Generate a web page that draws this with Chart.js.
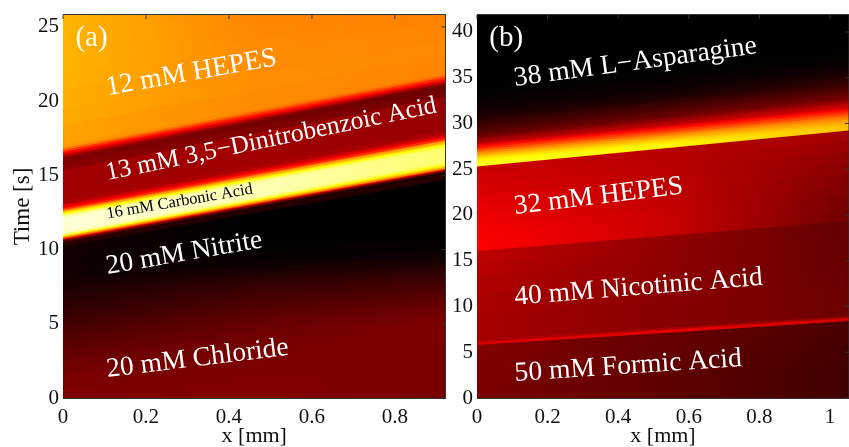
<!DOCTYPE html>
<html>
<head>
<meta charset="utf-8">
<title>Isotachophoresis zones</title>
<script src="https://cdn.jsdelivr.net/npm/chart.js@4/dist/chart.umd.min.js"></script>
<style>
  body { margin: 0; background: #fff; }
  canvas { position: absolute; top: 0; filter: blur(0.5px); }
  #panelA { left: 0; }
  #panelB { left: 425px; }
</style>
</head>
<body>
<canvas id="panelA" width="447" height="447"></canvas>
<canvas id="panelB" width="424" height="447"></canvas>
<script>
// Panel (a): each row is a line of equal signal, from x=0 to the right edge.
// Times in s, levels are positions on the "hot" colour map (0 black .. 1 white)
// read at the left, middle and right of the plot.
const xMaxA = 0.922;
const yMaxA = 25.8;
const timeLeftA = [27.14, 25.12, 24.11, 22.76, 21.75, 20.74, 19.39, 18.38, 17.04, 16.84, 16.70, 16.57, 16.43, 16.30, 16.16, 15.82, 15.35, 13.33, 13.06, 12.93, 12.79, 12.66, 12.59, 12.53, 12.46, 12.36, 12.26, 12.12, 11.25, 11.04, 10.94, 10.88, 10.77, 10.71, 10.64, 10.51,
  10.24, 9.70, 9.16, 8.75, 8.28, 7.95, 7.61, 7.34, 7.14, 6.87, 6.60, 6.33, 6.06, 5.79, 5.52, 5.25, 4.98, 4.71, 4.44, 4.18, 3.91, 3.57, 3.23, 2.90, 2.56, 2.15, 1.75, 1.21, 0.67];
const timeRightA = [31.85, 29.83, 28.83, 27.47, 26.46, 25.46, 24.11, 23.10, 21.89, 21.75, 21.62, 21.48, 21.35, 21.21, 21.08, 20.74, 20.27, 18.05, 17.78, 17.64, 17.51, 17.37, 17.31, 17.17, 17.10, 17.00, 16.90, 16.77, 15.89, 15.76, 15.66, 15.56, 15.45, 15.39, 15.32, 15.22,
  14.68, 13.00, 11.65, 10.77, 9.97, 9.56, 9.16, 8.89, 8.62, 8.35, 8.08, 7.81, 7.54, 7.27, 7.00, 6.73, 6.46, 6.20, 5.93, 5.59, 5.25, 4.92, 4.58, 4.11, 3.57, 2.90, 2.22, 1.55, 0.67];
const levelLeftA = [0.64, 0.64, 0.64, 0.64, 0.636, 0.63, 0.625, 0.615, 0.60, 0.55, 0.46, 0.38, 0.30, 0.23, 0.19, 0.20, 0.235, 0.25, 0.30, 0.36, 0.44, 0.56, 0.62, 0.68, 0.75, 0.85, 0.92, 0.96, 0.94, 0.85, 0.74, 0.60, 0.45, 0.30, 0.15, 0.06,
  0.03, 0.027, 0.025, 0.027, 0.03, 0.035, 0.04, 0.045, 0.05, 0.055, 0.06, 0.065, 0.07, 0.077, 0.085, 0.092, 0.10, 0.107, 0.115, 0.122, 0.13, 0.137, 0.145, 0.152, 0.16, 0.167, 0.175, 0.18, 0.186];
const levelMidA = [0.56, 0.568, 0.572, 0.575, 0.578, 0.582, 0.585, 0.58, 0.57, 0.52, 0.44, 0.38, 0.29, 0.21, 0.17, 0.19, 0.235, 0.25, 0.30, 0.36, 0.44, 0.56, 0.62, 0.68, 0.75, 0.84, 0.90, 0.93, 0.91, 0.80, 0.72, 0.60, 0.45, 0.30, 0.15, 0.05,
  0.0, 0.002, 0.005, 0.012, 0.02, 0.035, 0.05, 0.06, 0.07, 0.08, 0.09, 0.098, 0.105, 0.112, 0.12, 0.127, 0.135, 0.142, 0.15, 0.155, 0.16, 0.165, 0.17, 0.175, 0.18, 0.183, 0.185, 0.188, 0.19];
const levelRightA = [0.55, 0.553, 0.556, 0.56, 0.565, 0.57, 0.575, 0.57, 0.56, 0.52, 0.44, 0.38, 0.28, 0.19, 0.16, 0.17, 0.225, 0.245, 0.30, 0.36, 0.44, 0.56, 0.62, 0.68, 0.75, 0.80, 0.84, 0.86, 0.83, 0.76, 0.70, 0.60, 0.45, 0.30, 0.15, 0.05,
  0.0, 0.0, 0.0, 0.008, 0.02, 0.03, 0.04, 0.055, 0.07, 0.08, 0.09, 0.10, 0.11, 0.12, 0.13, 0.14, 0.15, 0.158, 0.165, 0.173, 0.18, 0.183, 0.185, 0.183, 0.18, 0.18, 0.18, 0.18, 0.18];

// Panel (b), same layout of rows
const xMaxB = 1.054;
const yMaxB = 41.85;
const timeLeftB = [44.04, 34.21, 33.11, 32.57, 32.02, 31.58, 31.15, 30.71, 30.38, 30.05, 29.73, 29.40, 29.07, 28.74, 28.52, 28.31, 28.09, 27.76, 27.54, 27.32, 27.10, 26.89, 26.67, 26.45, 26.23, 26.01, 25.79, 25.57,
  25.30, 24.41, 23.28, 22.19, 21.09, 20.00, 18.91, 18.14, 17.27, 16.07, 14.75, 13.44, 11.26, 9.07, 6.34, 6.12, 5.79, 4.37, 3.06, 1.42];
const timeRightB = [47.98, 38.14, 37.05, 36.50, 35.96, 35.52, 35.08, 34.64, 34.32, 33.99, 33.66, 33.33, 33.01, 32.68, 32.46, 32.24, 32.02, 31.69, 31.48, 31.26, 31.04, 30.82, 30.60, 30.38, 30.16, 29.95, 29.73, 29.51,
  29.23, 28.09, 26.89, 25.68, 24.48, 23.28, 22.19, 21.42, 20.55, 19.34, 17.60, 15.96, 14.21, 12.35, 8.96, 8.74, 8.42, 7.10, 5.79, 3.93];
const levelLeftB = [0, 0.003, 0.01, 0.015, 0.02, 0.03, 0.04, 0.055, 0.07, 0.085, 0.10, 0.12, 0.14, 0.165, 0.19, 0.225, 0.26, 0.34, 0.40, 0.46, 0.52, 0.58, 0.63, 0.68, 0.72, 0.75, 0.77, 0.78,
  0.30, 0.31, 0.32, 0.332, 0.345, 0.355, 0.365, 0.37, 0.375, 0.28, 0.27, 0.26, 0.252, 0.245, 0.25, 0.31, 0.19, 0.187, 0.185, 0.18];
const levelMidB = [0, 0.003, 0.01, 0.015, 0.02, 0.03, 0.04, 0.06, 0.08, 0.095, 0.11, 0.13, 0.15, 0.175, 0.20, 0.235, 0.27, 0.34, 0.40, 0.45, 0.50, 0.56, 0.61, 0.65, 0.69, 0.72, 0.74, 0.74,
  0.27, 0.272, 0.275, 0.282, 0.285, 0.29, 0.295, 0.30, 0.30, 0.215, 0.212, 0.21, 0.205, 0.20, 0.25, 0.34, 0.15, 0.148, 0.145, 0.14];
const levelRightB = [0, 0.004, 0.01, 0.018, 0.03, 0.045, 0.06, 0.075, 0.09, 0.11, 0.13, 0.15, 0.17, 0.20, 0.23, 0.265, 0.30, 0.36, 0.41, 0.46, 0.50, 0.55, 0.58, 0.61, 0.63, 0.65, 0.66, 0.66,
  0.24, 0.225, 0.21, 0.20, 0.19, 0.182, 0.175, 0.17, 0.165, 0.145, 0.148, 0.15, 0.155, 0.16, 0.22, 0.31, 0.11, 0.105, 0.10, 0.095];

// Zone names: text, x [mm], time [s], angle [deg], font size, colour
const labelsA = [
  ['(a)', 0.03, 23.7, 0, 29, '#fff'],
  ['12 mM HEPES', 0.107, 20.4, 10, 27.8, '#fff'],
  ['13 mM 3,5\u2212Dinitrobenzoic Acid', 0.107, 14.68, 11.6, 25.6, '#fff'],
  ['16 mM Carbonic Acid', 0.107, 12.1, 9.7, 16.4, '#000'],
  ['20 mM Nitrite', 0.107, 8.35, 9.8, 27.4, '#fff'],
  ['20 mM Chloride', 0.107, 1.41, 7, 27.5, '#fff']
];
const labelsB = [
  ['(b)', 0.035, 38.5, 0, 29, '#fff'],
  ['38 mM L\u2212Asparagine', 0.108, 34.1, 7.7, 27.5, '#fff'],
  ['32 mM HEPES', 0.108, 20.1, 7, 27.3, '#fff'],
  ['40 mM Nicotinic Acid', 0.108, 10.2, 4.6, 27.4, '#fff'],
  ['50 mM Formic Acid', 0.108, 1.85, 3.8, 27.6, '#fff']
];

const serif = '"Liberation Serif", serif';

// MATLAB "hot" colour map
function hot(v) {
  const clip = function (a) { return Math.round(255 * Math.max(0, Math.min(1, a))); };
  return 'rgb(' + clip(v / 0.375) + ',' + clip((v - 0.375) / 0.375) + ',' + clip((v - 0.75) / 0.25) + ')';
}

// Every row fills down to t=0 and the lower rows paint over it, index 0 goes on top
function buildRows(timeLeft, timeRight, left, mid, right, xMax) {
  const rows = [];
  for (let i = timeLeft.length - 1; i >= 0; i--) {
    rows.push({
      data: [{ x: 0, y: timeLeft[i] }, { x: xMax, y: timeRight[i] }],
      pointRadius: 0,
      borderWidth: 0,
      fill: 'origin',
      backgroundColor: function (context) {
        const area = context.chart.chartArea;
        if (!area) return hot(mid[i]);
        const g = context.chart.ctx.createLinearGradient(area.left, 0, area.right, 0);
        g.addColorStop(0, hot(left[i]));
        g.addColorStop(0.5, hot(mid[i]));
        g.addColorStop(1, hot(right[i]));
        return g;
      }
    });
  }
  return rows;
}

// Box on the top and right sides, inward ticks, and the zone names
const extras = {
  id: 'extras',
  afterDatasetsDraw(chart, args, opts) {
    const ctx = chart.ctx;
    const area = chart.chartArea;
    const sx = chart.scales.x;
    const sy = chart.scales.y;
    ctx.save();
    ctx.strokeStyle = '#333';
    ctx.lineWidth = 1;
    ctx.beginPath();
    ctx.moveTo(area.left, area.top - 0.5);
    ctx.lineTo(area.right, area.top - 0.5);
    ctx.lineTo(area.right, area.bottom);
    sx.ticks.forEach(function (t) {
      const px = sx.getPixelForValue(t.value);
      ctx.moveTo(px, area.top);
      ctx.lineTo(px, area.top + 4);
    });
    sy.ticks.forEach(function (t) {
      const py = sy.getPixelForValue(t.value);
      ctx.moveTo(area.right, py);
      ctx.lineTo(area.right - 4, py);
    });
    ctx.stroke();
    opts.items.forEach(function (item) {
      ctx.save();
      ctx.translate(sx.getPixelForValue(item[1]), sy.getPixelForValue(item[2]));
      ctx.rotate(-item[3] * Math.PI / 180);
      ctx.font = item[4] + 'px ' + serif;
      ctx.fillStyle = item[5];
      ctx.textBaseline = 'alphabetic';
      ctx.fillText(item[0], 0, 0);
      ctx.restore();
    });
    ctx.restore();
  }
};

function makeOptions(xMax, yMax, yStep, yAxisWidth, yTitle, items, rightPad) {
  return {
    responsive: false,
    animation: false,
    layout: { padding: { top: 15, right: rightPad, left: 0, bottom: 0 } },
    plugins: { legend: { display: false }, tooltip: { enabled: false }, extras: { items: items } },
    scales: {
      x: {
        type: 'linear',
        min: 0,
        max: xMax,
        border: { color: '#333' },
        grid: { drawOnChartArea: false, tickLength: -4, tickColor: '#333' },
        ticks: {
          stepSize: 0.2,
          includeBounds: false,
          maxRotation: 0,
          padding: 11,
          color: '#111',
          font: { family: serif, size: 21 },
          callback: function (v) { return String(+v.toFixed(1)); }
        },
        title: { display: true, text: 'x [mm]', color: '#111', padding: { top: 0, bottom: -2 }, font: { family: serif, size: 22 } },
        afterFit: function (scale) {
          scale.height = 49;
          scale.paddingLeft = 0;
          scale.paddingRight = 0;
        }
      },
      y: {
        min: 0,
        max: yMax,
        border: { color: '#333' },
        grid: { drawOnChartArea: false, tickLength: -4, tickColor: '#333' },
        ticks: {
          stepSize: yStep,
          includeBounds: false,
          padding: 8,
          color: '#111',
          font: { family: serif, size: 21 },
          callback: function (v) { return String(v); }
        },
        title: { display: yTitle !== '', text: yTitle, color: '#111', padding: { top: 9, bottom: 0 }, font: { family: serif, size: 23 } },
        afterFit: function (scale) {
          scale.width = yAxisWidth;
          scale.paddingTop = 0;
          scale.paddingBottom = 0;
        }
      }
    }
  };
}

new Chart(document.getElementById('panelA'), {
  type: 'line',
  data: { datasets: buildRows(timeLeftA, timeRightA, levelLeftA, levelMidA, levelRightA, xMaxA) },
  options: makeOptions(xMaxA, yMaxA, 5, 63, 'Time [s]', labelsA, 1.5),
  plugins: [extras]
});

new Chart(document.getElementById('panelB'), {
  type: 'line',
  data: { datasets: buildRows(timeLeftB, timeRightB, levelLeftB, levelMidB, levelRightB, xMaxB) },
  options: makeOptions(xMaxB, yMaxB, 5, 52, '', labelsB, 0),
  plugins: [extras]
});
</script>
</body>
</html>
